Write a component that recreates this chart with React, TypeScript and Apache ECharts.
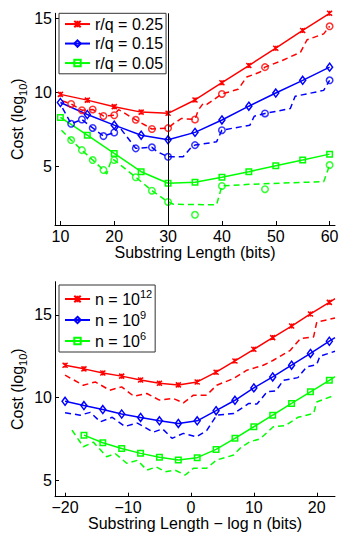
import React, { useEffect, useRef } from "react";
import * as echarts from "echarts";

const FONT = "Liberation Sans, Arial, Helvetica, sans-serif";
const RED = "#ff0000";
const BLUE = "#0000ff";
const GREEN = "#00ff00";

// ---------- top chart: cost vs substring length ----------
const topTicksX = [10, 20, 30, 40, 50, 60];
const topTicksY = [5, 10, 15];
const topSolidX = [10, 15, 20, 25, 30, 35, 40, 45, 50, 55, 60];
const rq025Solid = [9.88, 9.49, 9.05, 8.68, 8.6, 9.5, 10.67, 11.83, 13.0, 14.2, 15.36];
const rq015Solid = [9.33, 8.52, 7.8, 7.12, 6.81, 7.31, 8.15, 9.08, 9.97, 10.83, 11.72];
const rq005Solid = [8.32, 7.12, 5.89, 4.65, 3.87, 3.94, 4.28, 4.65, 5.06, 5.44, 5.84];

const circleX = [12, 14, 16, 18, 20, 24, 27, 30, 35, 40, 48, 60];
const rq025Circles = [9.23, 8.81, 8.86, 8.42, 8.47, 8.16, 7.54, 7.6, 8.18, 9.91, 11.72, 14.48];
const rq015Circles = [7.89, 8.18, 7.61, 7.06, 7.3, 6.23, 6.3, 5.66, 6.45, 7.46, 8.59, 10.83];
const rq005Circles = [6.79, 6.11, 5.44, 4.77, 5.44, 4.28, 3.37, 2.61, 1.74, 3.69, 3.47, 5.1];

const rq025Dashed = [
  [10.3, 9.45], [12, 9.23], [14, 8.81], [16, 8.86], [18, 8.42], [20, 8.47], [20.8, 8.85],
  [24, 8.16], [27, 7.54], [30, 7.6], [31, 7.9], [32.5, 8.25], [35, 8.18], [35.6, 8.81],
  [36.5, 9.26], [37.2, 9.2], [40, 9.91], [43, 10.22], [44.6, 11.05], [47.1, 11.39],
  [48, 11.72], [51.2, 12.17], [54.6, 12.73], [55.8, 13.57], [58.9, 13.97], [60, 14.48],
];
const rq015Dashed = [
  [10.4, 8.95], [12, 7.89], [14, 8.18], [16, 7.61], [18, 7.06], [20, 7.3], [20.8, 7.75],
  [24, 6.23], [27, 6.3], [28, 6.0], [30, 5.66], [32.8, 5.66], [34.4, 6.34], [35, 6.45],
  [39, 6.67], [40, 7.46], [45.2, 7.8], [46, 8.4], [48, 8.59], [52.7, 8.92], [53.6, 9.75],
  [58.9, 10.15], [60, 10.83],
];
const rq005Dashed = [
  [10.2, 7.46], [12, 6.79], [14, 6.11], [16, 5.44], [18, 4.77], [18.6, 4.5], [19.5, 5.5],
  [20, 5.44], [24, 4.28], [27, 3.37], [30, 2.61], [31, 2.45], [39, 2.41], [40, 3.69],
  [45, 3.8], [58.9, 3.98], [60, 5.1],
];

// ---------- bottom chart: cost vs substring length - log n ----------
const botTicksX = [-20, -10, 0, 10, 20];
const botTicksY = [5, 10, 15];
const botSolidX = [-20, -17, -14, -11, -8, -5, -2, 1, 4, 7, 10, 13, 16, 19, 22];
const botEndX = 22.9;
const n12Solid = [11.95, 11.73, 11.48, 11.29, 11.06, 10.86, 10.76, 10.94, 11.53, 12.21, 12.91, 13.62, 14.32, 15.05, 15.75];
const n9Solid = [9.77, 9.51, 9.27, 9.0, 8.79, 8.59, 8.43, 8.59, 9.2, 9.83, 10.58, 11.24, 11.95, 12.66, 13.4];
const n6Solid = [null, 7.72, 7.26, 6.92, 6.62, 6.38, 6.22, 6.36, 6.86, 7.53, 8.23, 8.93, 9.64, 10.34, 11.04];
const n12End = 15.98;
const n9End = 13.62;
const n6End = 11.26;

const n12Dashed = [
  [-20, 11.35], [-17.1, 10.74], [-15.2, 10.94], [-12.9, 10.44], [-11, 10.64], [-9.1, 10.08],
  [-7, 10.24], [-5, 9.84], [-2.8, 9.94], [-1.2, 9.67], [0.4, 10.14], [2.5, 10.14], [4.1, 10.74],
  [6.8, 11.15], [8.9, 11.65], [11.5, 11.95], [13.1, 12.25], [15.8, 12.85], [17.4, 13.56],
  [19.5, 13.66], [20, 14.56], [22.9, 14.8],
];
const n9Dashed = [
  [-20, 9.07], [-17.6, 8.93], [-16, 9.1], [-14.4, 8.53], [-12.5, 8.8], [-10.5, 8.25],
  [-8.5, 8.45], [-6, 7.9], [-4.5, 8.1], [-3, 7.53], [-1.2, 7.83], [0.9, 7.62], [2.5, 8.0],
  [4.1, 8.93], [6.8, 9.03], [9.2, 9.64], [10.5, 9.6], [12.1, 10.34], [13.5, 10.4], [14.7, 11.04],
  [17, 11.2], [18.4, 11.85], [20, 11.99], [20.5, 12.5], [22.9, 12.79],
];
const n6Dashed = [
  [-18.9, 8.03], [-17.1, 7.02], [-15.5, 7.3], [-13.4, 6.42], [-12, 6.6], [-10.2, 6.02],
  [-8.5, 6.2], [-7, 5.61], [-5.5, 5.8], [-4.1, 5.51], [-2.5, 5.6], [-0.9, 5.31], [0.4, 5.72],
  [2.5, 5.72], [4.1, 6.22], [6.8, 6.52], [8, 7.0], [9.4, 7.32], [11, 7.5], [13.1, 8.23],
  [15, 8.3], [17, 8.8], [19.5, 9.03], [20, 9.73], [22.9, 10.14],
];

const topLegend = ["r/q = 0.25", "r/q = 0.15", "r/q = 0.05"];
const botLegend = ["n = 10^12", "n = 10^9", "n = 10^6"];

const CROSS = "path://M0,0L10,10M10,0L0,10M5,0L5,10";

function pairs(xs: number[], ys: (number | null)[]) {
  const out: any[] = [];
  xs.forEach((x, i) => {
    if (ys[i] != null) out.push([x, ys[i]]);
  });
  return out;
}

function symbolSizeFor(symbol: string): any {
  if (symbol === CROSS) return 5;
  if (symbol === "diamond") return [6, 8];
  return 5.5;
}

function solidSeries(name: string, color: string, symbol: string, data: any[], xi: number, extra: any = {}) {
  return {
    name,
    type: "line",
    xAxisIndex: xi,
    yAxisIndex: xi,
    data,
    symbol,
    symbolSize: symbolSizeFor(symbol),
    showSymbol: true,
    lineStyle: { color, width: 1.5, type: "solid" },
    itemStyle: { color: symbol === CROSS ? color : "rgba(255,255,255,0)", borderColor: color, borderWidth: 1.5 },
    emphasis: { disabled: true },
    z: 3,
    ...extra,
  };
}

function dashedSeries(name: string, color: string, data: any[], xi: number) {
  return {
    name,
    type: "line",
    xAxisIndex: xi,
    yAxisIndex: xi,
    data,
    symbol: "none",
    showSymbol: false,
    lineStyle: { color, width: 1.5, type: [6, 4] },
    emphasis: { disabled: true },
    z: 2,
  };
}

function circleSeries(name: string, color: string, data: any[], xi: number) {
  return {
    name,
    type: "scatter",
    xAxisIndex: xi,
    yAxisIndex: xi,
    data,
    symbol: "circle",
    symbolSize: 6.5,
    itemStyle: { color: "rgba(255,255,255,0)", borderColor: color, borderWidth: 1.5 },
    emphasis: { disabled: true },
    z: 4,
  };
}

const axisText = { color: "#000", fontSize: 16, fontFamily: FONT };

function xAxis(gi: number, min: number, max: number, ticks: number[], name: string) {
  return {
    gridIndex: gi,
    type: "value",
    min,
    max,
    axisLine: { show: true, onZero: false, lineStyle: { color: "#000", width: 1 } },
    axisTick: { show: true, inside: true, length: 4, customValues: ticks, lineStyle: { color: "#000", width: 1 } },
    axisLabel: { ...axisText, customValues: ticks, margin: 3, formatter: (v: number) => (v < 0 ? "\u2212" + Math.abs(v) : String(v)) },
    splitLine: { show: false },
    name,
    nameLocation: "middle",
    nameGap: 19,
    nameMoveOverlap: false,
    nameTextStyle: { ...axisText },
  };
}

function yAxis(gi: number, min: number, max: number, ticks: number[]) {
  return {
    gridIndex: gi,
    type: "value",
    min,
    max,
    axisLine: { show: true, onZero: false, lineStyle: { color: "#000", width: 1 } },
    axisTick: { show: true, inside: true, length: 4, customValues: ticks, lineStyle: { color: "#000", width: 1 } },
    axisLabel: { ...axisText, customValues: ticks, margin: 3 },
    splitLine: { show: false },
    name: "{a|Cost (log}{s|10}{a|)}",
    nameLocation: "middle",
    nameGap: 26.5,
    nameMoveOverlap: false,
    nameTextStyle: {
      ...axisText,
      rich: {
        a: { fontSize: 16, fontFamily: FONT, color: "#000", lineHeight: 22 },
        s: { fontSize: 11, fontFamily: FONT, color: "#000", verticalAlign: "bottom" },
      },
    },
  };
}

export default function App() {
  const ref = useRef<HTMLDivElement>(null);
  useEffect(() => {
    if (!ref.current) return;
    const chart = echarts.init(ref.current, null, { renderer: "svg" });

    const endItem = (v: number) => ({ value: [botEndX, v], symbol: "none" });

    const option: any = {
      animation: false,
      backgroundColor: "#fff",
      textStyle: { fontFamily: FONT },
      grid: [
        { left: 55, top: 13.3, width: 280, height: 211.7, outerBoundsMode: "none", containLabel: false },
        { left: 55, top: 281.7, width: 280, height: 215, outerBoundsMode: "none", containLabel: false },
      ],
      xAxis: [
        xAxis(0, 9, 61, topTicksX, "Substring Length (bits)"),
        xAxis(1, -21.6, 22.9, botTicksX, "Substring Length \u2212 log n (bits)"),
      ],
      yAxis: [yAxis(0, 1.05, 15.36, topTicksY), yAxis(1, 4, 17, botTicksY)],
      legend: [
        {
          data: topLegend,
          orient: "vertical",
          left: 59,
          top: 13.3,
          padding: [2, 3, 2, 5],
          itemGap: 2,
          itemWidth: 25,
          itemHeight: 8,
          backgroundColor: "#fff",
          borderColor: "#333",
          borderWidth: 1,
          borderRadius: 0,
          selectedMode: false,
          textStyle: { ...axisText, lineHeight: 17.5 },
        },
        {
          data: botLegend,
          orient: "vertical",
          left: 59,
          top: 285,
          padding: [3, 3, 3, 5],
          itemGap: 2,
          itemWidth: 25,
          itemHeight: 8,
          backgroundColor: "#fff",
          borderColor: "#333",
          borderWidth: 1,
          borderRadius: 0,
          selectedMode: false,
          formatter: (name: string) => {
            const [base, exp] = name.split("^");
            return "{a|" + base + "}{b|" + exp + "}";
          },
          textStyle: {
            ...axisText,
            rich: {
              a: { fontSize: 16, fontFamily: FONT, color: "#000", lineHeight: 22 },
              b: { fontSize: 11, fontFamily: FONT, color: "#000", verticalAlign: "top" },
            },
          },
        },
      ],
      series: [
        dashedSeries("rq025d", RED, rq025Dashed, 0),
        dashedSeries("rq015d", BLUE, rq015Dashed, 0),
        dashedSeries("rq005d", GREEN, rq005Dashed, 0),
        circleSeries("rq025c", RED, pairs(circleX, rq025Circles), 0),
        circleSeries("rq015c", BLUE, pairs(circleX, rq015Circles), 0),
        circleSeries("rq005c", GREEN, pairs(circleX, rq005Circles), 0),
        solidSeries(topLegend[0], RED, CROSS, pairs(topSolidX, rq025Solid), 0, {
          markLine: {
            silent: true,
            symbol: "none",
            label: { show: false },
            lineStyle: { color: "#000", width: 1, type: "solid" },
            emphasis: { disabled: true },
            data: [{ xAxis: 30 }],
          },
        }),
        solidSeries(topLegend[1], BLUE, "diamond", pairs(topSolidX, rq015Solid), 0),
        solidSeries(topLegend[2], GREEN, "rect", pairs(topSolidX, rq005Solid), 0),

        dashedSeries("n12d", RED, n12Dashed, 1),
        dashedSeries("n9d", BLUE, n9Dashed, 1),
        dashedSeries("n6d", GREEN, n6Dashed, 1),
        solidSeries(botLegend[0], RED, CROSS, [...pairs(botSolidX, n12Solid), endItem(n12End)], 1),
        solidSeries(botLegend[1], BLUE, "diamond", [...pairs(botSolidX, n9Solid), endItem(n9End)], 1),
        solidSeries(botLegend[2], GREEN, "rect", [...pairs(botSolidX, n6Solid), endItem(n6End)], 1),
      ],
    };
    chart.setOption(option);
    return () => chart.dispose();
  }, []);

  return (
    <div
      ref={ref}
      style={{ position: "absolute", left: 0, top: 0, width: 346, height: 538, background: "#fff" }}
    />
  );
}
